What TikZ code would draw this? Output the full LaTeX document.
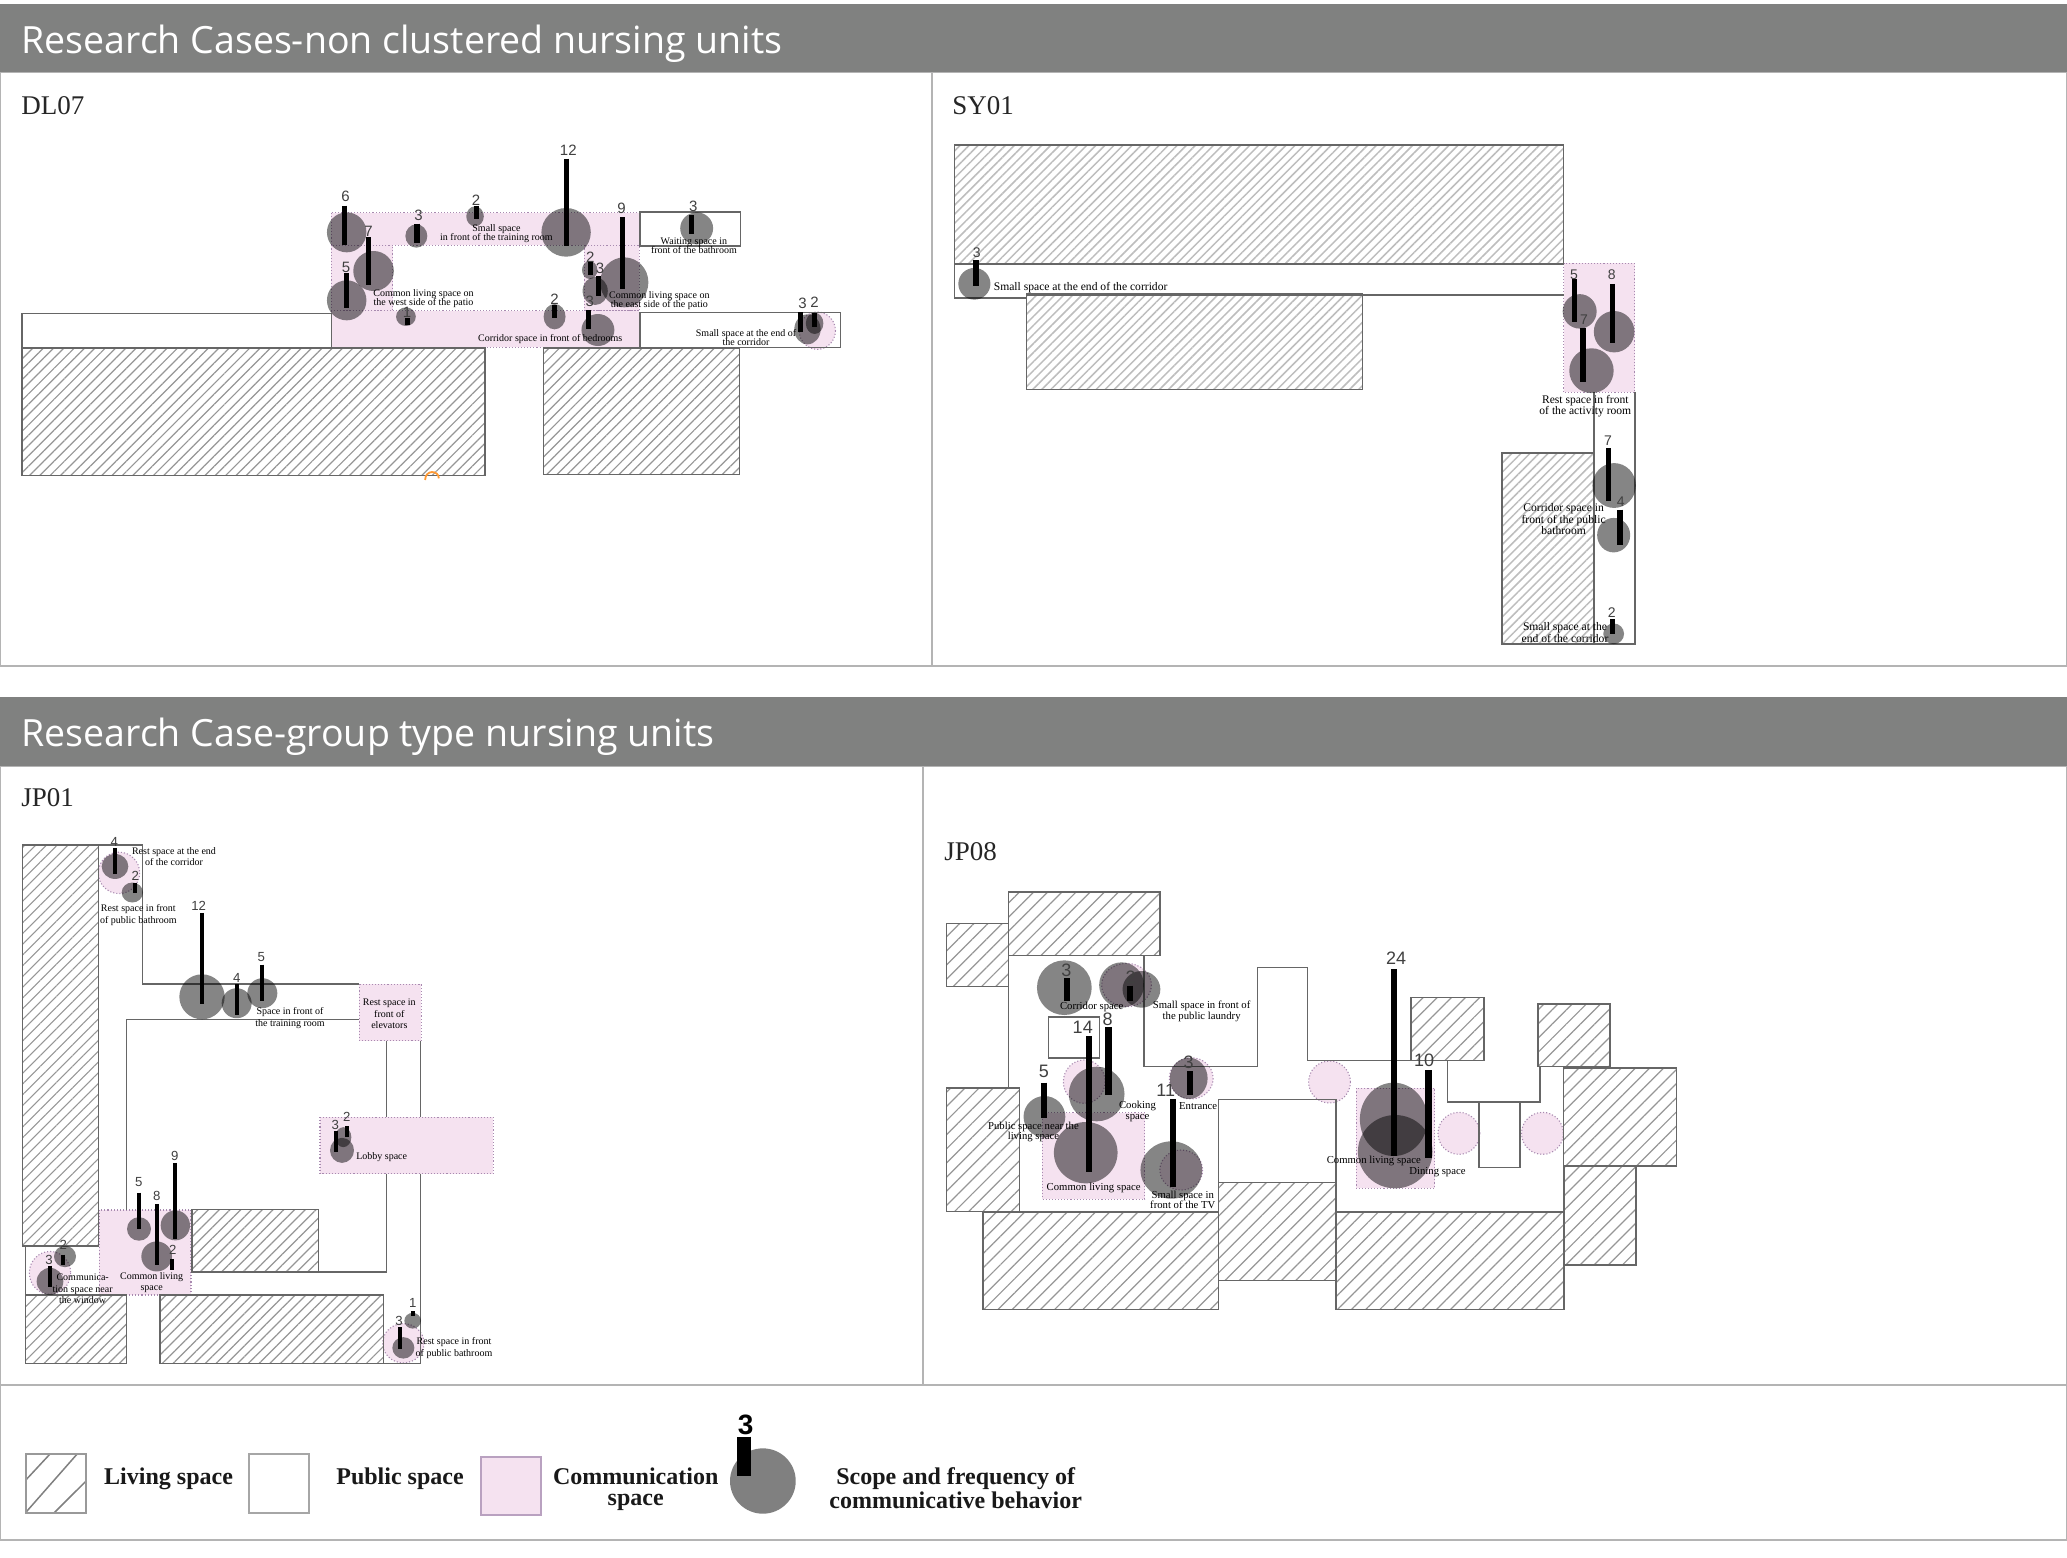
\documentclass[tikz,border=0pt]{standalone}
\usepackage{fontspec}
\setmainfont{Liberation Serif}
\newfontfamily\numfont{Liberation Sans}
\newfontfamily\headfont{Open Sans}
\usetikzlibrary{patterns.meta}
\definecolor{headgray}{HTML}{808180}
\definecolor{framegray}{HTML}{B4B4B4}
\definecolor{pinkfill}{HTML}{F5E2F0}
\definecolor{pinkedge}{HTML}{A88AB0}
\definecolor{wall}{HTML}{666666}
\definecolor{hatchdark}{HTML}{969696}
\definecolor{hatchlight}{HTML}{BDBDBD}
\tikzset{
  x=.5pt,y=-.5pt,
  frame/.style={draw=framegray,line width=.8pt},
  head/.style={fill=headgray},
  headtext/.style={text=white,anchor=west,font=\headfont\fontsize{18.76}{20}\selectfont},
  casetext/.style={anchor=west,font=\fontsize{13.5}{15}\selectfont,text=black!85},
  wallline/.style={draw=wall,line width=.8pt},
  blob/.style={fill=black,fill opacity=.48},
  pinkdot/.style={fill=pinkfill,draw=pinkedge,line width=.55pt,densely dotted},
  bar/.style={line width=#1,draw=black},
  bar/.default=2.7pt,
  num/.style={font=\numfont\fontsize{#1}{#1}\selectfont,text=black!75,inner sep=0pt},
  num/.default=7,
  lbl/.style 2 args={align=center,inner sep=0pt,text=black,font=\fontsize{#1}{#2}\selectfont},
}
\newcommand{\hatchset}[4]{% spacing, line width, colour, list
  \foreach \xa/\ya/\xb/\yb in {#4}
    \draw[wallline,pattern={Lines[angle=45,distance=#1,line width=#2]},pattern color=#3] (\xa,\ya) rectangle (\xb,\yb);}
\newcommand{\blobs}[1]{\foreach \cx/\cy/\rx/\ry in {#1}
    \fill[blob] (\cx,\cy) ellipse [x radius=\rx,y radius=\ry];}
\newcommand{\pinkdisks}[1]{\foreach \cx/\cy/\rx/\ry in {#1}
    \draw[pinkdot] (\cx,\cy) ellipse [x radius=\rx,y radius=\ry];}
\newcommand{\bars}[3]{\foreach \bx/\ya/\yb/\n/\lx/\ly in {#3}{
    \draw[bar=#1] (\bx,\ya) -- (\bx,\yb);
    \node[num=#2] at (\lx,\ly) {\n};}}
\begin{document}
\begin{tikzpicture}
\useasboundingbox (0,0) rectangle (2067,1558);
\fill[white] (0,0) rectangle (2067,1558);
% frames and headers
\draw[frame] (0.7,72) rectangle (2066.3,666);
\draw[frame] (932,72) -- (932,666);
\draw[frame] (0.7,766) rectangle (2066.3,1385);
\draw[frame] (923,766) -- (923,1385);
\draw[frame] (0.7,1385) rectangle (2066.3,1540);
\fill[head] (0,4) rectangle (2067,72);
\fill[head] (0,697) rectangle (2067,766);
\node[headtext,inner sep=0pt] (h1) at (21,44) {Research Cases-non clustered nursing units};
\node[headtext,inner sep=0pt] (h2) at (21,737) {Research Case-group type nursing units};
\node[casetext,inner sep=0pt] (c1) at (21,106) {DL07};
\node[casetext,inner sep=0pt] (c2) at (952,106) {SY01};
\node[casetext,inner sep=0pt] (c3) at (21,798) {JP01};
\node[casetext,inner sep=0pt] (c4) at (944,852) {JP08};

% ---------- DL07
\begin{scope}[shift={(0,120)},x=.27427pt,y=-.16667pt]
\foreach \xa/\ya/\xb/\yb in {604/278/1165/376,604/376/716/572,1065/376/1165/572,604/572/1165/682}
  \draw[pinkdot] (\xa,\ya) rectangle (\xb,\yb);
\pinkdisks{1490/632/33/56}
\hatchset{3.65pt}{.6pt}{hatchdark}{40/684/884/1066,991/684/1348/1064}
\foreach \xa/\ya/\xb/\yb in {40/580/604/682,1167/276/1350/378,1167/578/1532/682}
  \draw[wallline] (\xa,\ya) rectangle (\xb,\yb);
\blobs{632/337/36/60,681/453/37/60,632/541/36/60,759/348/20/35,866/289/16/30,1032/337/45/73,1138/487/44/75,1075/450/14/27,1085/513/23/42,1090/630/30/48,1011/590/20/38,740/590/18/28,1270/325/30/48,1472/628/24/45,1485/610/16/32}
\foreach \lx/\ly/\t in {905/340/{Small space\\in front of the training room},1265/377/{Waiting space in\\front of the bathroom},772/536/{Common living space on\\the west side of the patio},1202/541/{Common living space on\\the east side of the patio},1003/658/{Corridor space in front of bedrooms},1360/652/{Small space at the end of\\the corridor}}
  \node[lbl={5}{4.7}] at (\lx,\ly) {\t};
\bars{2.6pt}{7.5}{628/257/376/6/630/230,672/352/495/7/672/335,631/460/563/5/631/443,760/311/370/3/763/287,868/257/296/2/868/240,1033/116/378/12/1036/92,1135/292/508/9/1133/266,1077/425/466/2/1076/412,1091/468/527/3/1094/445,1073/570/627/3/1075/545,1011/556/595/2/1011/538,743/595/615/1/742/578,1261/285/343/3/1264/260,1460/577/635/3/1463/550,1485/579/622/2/1485/546}
\draw[orange!80,line width=.9pt] (775,1080) .. controls (775,1048) and (800,1050) .. (800,1075);
\end{scope}

% ---------- SY01
\begin{scope}[shift={(930,120)},x=.23607pt,y=-.17241pt]
\draw[pinkdot] (1342,416) rectangle (1493,790);
\hatchset{3.2pt}{.75pt}{hatchlight}{52/72/1342/416,204/505/916/782,1212/966/1406/1520}
\draw[wallline] (1342,418) -- (52,418) -- (52,516) -- (204,516);
\draw[wallline] (204,507) -- (1342,507);
\draw[wallline] (1406,790) -- (1406,1520) -- (1493,1520) -- (1493,790);
\blobs{94/475/34/46,1376/555/36/50,1449/614/43/60,1401/727/47/65,1449/1060/46/65,1448/1204/35/50,1448/1490/22/30}
\foreach \lx/\ly/\t in {319/487/{Small space at the end of the corridor},1388/830/{Rest space in front\\of the activity room},1342/1158/{Corridor space in\\front of the public\\bathroom},1345/1487/{Small space at the\\end of the corridor}}
  \node[lbl={5.8}{5.8}] at (\lx,\ly) {\t};
\bars{2.7pt}{7}{97/407/482/3/99/385,1365/462/585/5/1364/448,1446/475/648/8/1444/450,1383/603/760/7/1385/578,1437/952/1105/7/1436/930,1461/1130/1232/4/1463/1107,1446/1448/1490/2/1444/1428}
\end{scope}

% ---------- JP01
\begin{scope}[shift={(0,820)},x=.16667pt,y=-.17857pt]
\foreach \xa/\ya/\xb/\yb in {1078/460/1264/618,960/832/1480/990,298/1092/573/1330}
  \draw[pinkdot] (\xa,\ya) rectangle (\xb,\yb);
\pinkdisks{357/148/62/58,150/1268/62/60,1210/1465/62/55}
\hatchset{3.8pt}{.55pt}{hatchdark}{68/70/296/1193,76/1330/380/1522,480/1330/1150/1522,576/1090/955/1265}
\draw[wallline] (296,70) -- (428,70) -- (428,460) -- (1078,460);
\draw[wallline] (380,1092) -- (380,558) -- (1078,558);
\draw[wallline] (1160,618) -- (1160,832);
\draw[wallline] (1262,618) -- (1262,832);
\draw[wallline] (1160,990) -- (1160,1265) -- (955,1265);
\draw[wallline] (1262,990) -- (1262,1522) -- (1150,1522);
\draw[wallline] (76,1193) -- (76,1330);
\blobs{345/130/40/35,397/203/32/28,606/495/68/63,710/513/45/42,787/485/45/42,1026/925/36/35,1030/888/24/28,417/1145/36/33,470/1222/46/42,526/1135/44/42,195/1222/33/30,150/1292/40/38,1238/1402/25/22,1210/1478/33/30}
\foreach \lx/\ly/\t in {522/102/{Rest space at the end\\of the corridor},415/266/{Rest space in front\\of public bathroom},870/555/{Space in front of\\the training room},1168/543/{Rest space in\\front of\\elevators},1145/945/{Lobby space},248/1313/{Communica-\\tion space near\\the window},455/1295/{Common living\\space},1362/1478/{Rest space in front\\of public bathroom}}
  \node[lbl={5}{5.7}] at (\lx,\ly) {\t};
\bars{2.15pt}{6.6}{345/78/150/4/343/62,406/176/203/2/406/157,606/260/515/12/596/240,710/460/547/4/710/442,787/405/508/5/784/385,1008/870/930/3/1006/853,1040/858/887/2/1040/830,417/1043/1145/5/416/1015,470/1075/1247/8/470/1053,526/960/1172/9/524/940,517/1230/1260/2/518/1203,189/1217/1247/2/190/1190,149/1248/1308/3/147/1232,1238/1375/1390/1/1238/1353,1199/1420/1480/3/1197/1402}
\end{scope}

% ---------- JP08
\begin{scope}[shift={(930,870)},x=.24876pt,y=-.16667pt]
\draw[pinkdot] (226,728) rectangle (432,988);
\draw[pinkdot] (857,655) rectangle (1014,955);
\pinkdisks{310/635/42/65,803/636/42/63,1063/790/42/63,1231/790/42/63,525/625/44/62,505/900/43/60,395/345/50/65}
\hatchset{5pt}{.6pt}{hatchdark}{33/160/158/350,158/66/462/256,33/654/180/1024,106/1026/580/1318,580/938/816/1232,816/1026/1274/1318,967/382/1113/572,1222/402/1367/590,1273/594/1500/888,1274/890/1419/1185}
\draw[wallline] (158,256) -- (158,654);
\draw[wallline] (430,256) -- (430,590) -- (658,590) -- (658,292) -- (759,292) -- (759,572) -- (967,572);
\draw[wallline] (1040,572) -- (1040,696) -- (1226,696) -- (1226,590);
\draw[wallline] (238,441) rectangle (341,564);
\draw[wallline] (580,938) -- (580,688) -- (816,688) -- (816,1026);
\draw[wallline] (1103,696) -- (1103,892) -- (1186,892) -- (1186,696);
\blobs{270/353/55/82,385/345/45/68,425/358/38/55,313/848/64/92,335/672/56/82,230/740/42/62,485/900/62/86,520/625/38/62,932/748/68/110,935/845/75/110}
\foreach \lx/\ly/\t in {325/410/{Corridor space},546/424/{Small space in front of\\the public laundry},417/724/{Cooking\\space},539/709/{Entrance},208/785/{Public space near the\\living space},329/954/{Common living space},508/990/{Small space in\\front of the TV},892/873/{Common living space},1020/905/{Dining space}}
  \node[lbl={5.35}{5.1}] at (\lx,\ly) {\t};
\bars{3.2pt}{9}{275/325/393/3/274/300,402/347/392/2/403/322,320/498/905/14/307/473,359/472/676/8/357/447,229/638/743/5/229/603,488/687/952/11/474/660,523/604/676/3/520/578,933/298/857/24/937/266,1002/600/865/10/993/570}
\end{scope}

% ---------- Legend
\begin{scope}[shift={(0,1380)},x=.35714pt,y=-.16667pt]
\draw[gray,line width=.75pt] (37,298) -- (70,222);
\draw[gray,line width=.75pt] (37,395) -- (108,222);
\draw[gray,line width=.75pt] (75,400) -- (121,302);
\draw[draw=gray!80,line width=1pt] (37,221) rectangle (121,400);
\draw[draw=gray!70,line width=1pt] (348,221) rectangle (433,400);
\draw[fill=pinkfill,draw=pinkedge!80,line width=1pt] (673,230) rectangle (758,405);
\fill[fill=black!50] (1068,303) ellipse [x radius=46,y radius=98];
\draw[bar=7pt] (1042,170) -- (1042,287);
\node[num=14,font=\numfont\bfseries\fontsize{14}{14}\selectfont,text=black] (lg3) at (1044,135) {3};
\foreach \lx/\ly/\t in {236/297/{Living space},560/297/{Public space},890/327/{Communication\\space},1338/325/{Scope and frequency of\\communicative behavior}}
  \node[align=center,inner sep=0pt,text=black!90,font=\bfseries\fontsize{12}{10.3}\selectfont] at (\lx,\ly) {\t};
\end{scope}
\end{tikzpicture}
\end{document}
